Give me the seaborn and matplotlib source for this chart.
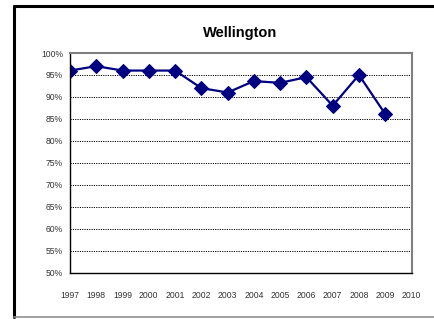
import matplotlib
matplotlib.use("Agg")
import matplotlib.pyplot as plt
import seaborn as sns
import pandas as pd
from matplotlib.ticker import FuncFormatter

years = [1997, 1998, 1999, 2000, 2001, 2002, 2003, 2004, 2005, 2006, 2007, 2008, 2009]
rate = [96, 97, 96, 96, 96, 92, 91, 93.6, 93.2, 94.5, 88, 95, 86.1]
df = pd.DataFrame({"year": years, "rate": rate})

sns.set_theme(style="white")
plt.rcParams["font.family"] = ["Liberation Sans", "DejaVu Sans"]

W, H = 435, 319
fig = plt.figure(figsize=(W / 100, H / 100), dpi=100)
ax = fig.add_axes([70 / W, 1 - 272.5 / H, (411.5 - 70) / W, (272.5 - 53) / H])

sns.lineplot(data=df, x="year", y="rate", ax=ax, color="#000080", lw=1.6,
             marker="D", markersize=7.5, markeredgecolor="#000080")

ax.set_xlim(1997, 2010)
ax.set_ylim(50, 100)
ax.set_xticks(range(1997, 2011))
ax.set_yticks(range(50, 101, 5))
ax.yaxis.set_major_formatter(FuncFormatter(lambda v, p: f"{v:.0f}%"))
ax.tick_params(axis="both", labelsize=6.2, colors="black", length=3, width=0.8,
               direction="out", labelcolor="#333333")
ax.tick_params(axis="x", pad=10)
ax.tick_params(axis="y", pad=2)
ax.set_xlabel("")
ax.set_ylabel("")

for v in range(55, 100, 5):
    ax.axhline(v, color="black", lw=0.7, ls=(0, (1.2, 1.2)), zorder=0)

for side in ["left", "bottom"]:
    ax.spines[side].set_color("black")
    ax.spines[side].set_linewidth(1.0)
for side in ["right", "top"]:
    ax.spines[side].set_color("#808080")
    ax.spines[side].set_linewidth(1.5)

fig.text(240 / W, 1 - 33 / H, "Wellington", ha="center", va="center",
         fontsize=10.5, fontweight="bold", color="black")

# outer chart frame: black left and top, grey bottom
fig.lines.append(plt.Line2D([14 / W, 14 / W], [1 - 317 / H, 1 - 5.5 / H],
                            transform=fig.transFigure, color="black", lw=2.2))
fig.lines.append(plt.Line2D([14 / W, 1], [1 - 5.5 / H] * 2,
                            transform=fig.transFigure, color="black", lw=2.2))
fig.lines.append(plt.Line2D([14 / W, 1], [1 - 317 / H] * 2,
                            transform=fig.transFigure, color="#909090", lw=1.2))

fig.savefig("out.png", dpi=100)
